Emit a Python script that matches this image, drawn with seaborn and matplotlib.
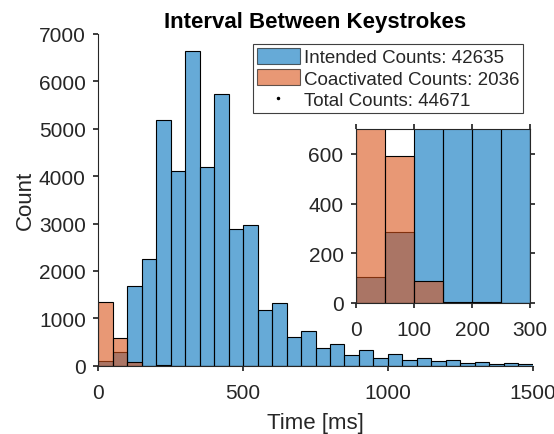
import numpy as np
import pandas as pd
import matplotlib
matplotlib.use("Agg")
import matplotlib.pyplot as plt
import seaborn as sns
from matplotlib.patches import Patch
from matplotlib.lines import Line2D

# ---- data ----
bin_edges = list(range(0, 1550, 50))
intended_counts = [105, 285, 1683, 2254, 5183, 4106, 6634, 4190, 5739, 2880,
                   2972, 1183, 1317, 599, 739, 373, 458, 232, 338, 169,
                   254, 127, 155, 92, 120, 56, 70, 42, 56, 28]
coactivated_counts = [1350, 590, 88, 3, 5, 0, 0, 0, 0, 0,
                      0, 0, 0, 0, 0, 0, 0, 0, 0, 0,
                      0, 0, 0, 0, 0, 0, 0, 0, 0, 0]
legend_labels = ["Intended Counts: 42635", "Coactivated Counts: 2036", "Total Counts: 44671"]
title_text = "Interval Between Keystrokes"
x_label = "Time [ms]"
y_label = "Count"
main_xticks = [0, 500, 1000, 1500]
main_yticks = [0, 1000, 2000, 3000, 4000, 5000, 6000, 7000]
inset_xticks = [0, 100, 200, 300]
inset_yticks = [0, 200, 400, 600]

centers = [e + 25 for e in bin_edges[:-1]]
df_int = pd.DataFrame({"t": centers, "n": intended_counts})
df_coa = pd.DataFrame({"t": centers, "n": coactivated_counts})

sns.set_theme(style="ticks")
plt.rcParams["font.family"] = ["Liberation Sans", "DejaVu Sans"]
dark = "#262626"
plt.rcParams.update({
    "axes.edgecolor": dark, "xtick.color": dark, "ytick.color": dark,
    "axes.labelcolor": dark, "text.color": dark, "axes.linewidth": 0.8,
    "xtick.direction": "out", "ytick.direction": "out",
    "xtick.major.size": 3.5, "ytick.major.size": 3.5,
})

BLUE = "#0072BD"
ORANGE = "#D95319"

fig = plt.figure(figsize=(5.54, 4.35), dpi=100)
ax = fig.add_axes([98.3 / 554, 1 - 366.7 / 435, (532.7 - 98.3) / 554, (366.7 - 35) / 435])


def draw(a):
    sns.histplot(data=df_int, x="t", weights="n", bins=bin_edges, ax=a,
                 color=BLUE, alpha=0.6, edgecolor="black", linewidth=0.8)
    sns.histplot(data=df_coa, x="t", weights="n", bins=bin_edges, ax=a,
                 color=ORANGE, alpha=0.6, edgecolor="black", linewidth=0.8)


draw(ax)
ax.set_xlim(0, 1500)
ax.set_ylim(0, 7000)
ax.set_xticks(main_xticks)
ax.set_yticks(main_yticks)
ax.tick_params(axis="x", labelsize=15, pad=9)
ax.tick_params(axis="y", labelsize=15, pad=5.5)
ax.set_xlabel(x_label, fontsize=16, labelpad=7)
ax.set_ylabel(y_label, fontsize=16, labelpad=2.5)
ax.set_title(title_text, fontsize=16, fontweight="bold", color="black", pad=5)
sns.despine(ax=ax)

handles = [
    Patch(facecolor=BLUE, alpha=0.6, edgecolor="black", linewidth=0.8),
    Patch(facecolor=ORANGE, alpha=0.6, edgecolor="black", linewidth=0.8),
    Line2D([], [], linestyle="none", marker=".", color="black", markersize=3),
]
leg = ax.legend(handles, legend_labels, loc="upper right",
                bbox_to_anchor=(523 / 554, 1 - 45 / 435), bbox_transform=fig.transFigure,
                borderaxespad=0, fontsize=13.5, frameon=True, fancybox=False,
                handlelength=2.3, handleheight=0.95, handletextpad=0.2,
                labelspacing=0.15, borderpad=0.2, framealpha=1)
leg.get_frame().set_edgecolor("#404040")
leg.get_frame().set_linewidth(0.8)

ins = fig.add_axes([356 / 554, 1 - 304 / 435, (530 - 356) / 554, (304 - 130) / 435])
draw(ins)
ins.set_xlim(0, 300)
ins.set_ylim(0, 700)
ins.set_xticks(inset_xticks)
ins.set_yticks(inset_yticks)
ins.set_xlabel("")
ins.set_ylabel("")
ins.tick_params(axis="x", labelsize=15, top=True, pad=9)
ins.tick_params(axis="y", labelsize=15, right=True, pad=5.5)
for s in ins.spines.values():
    s.set_visible(True)

fig.savefig("out.png", dpi=100)
